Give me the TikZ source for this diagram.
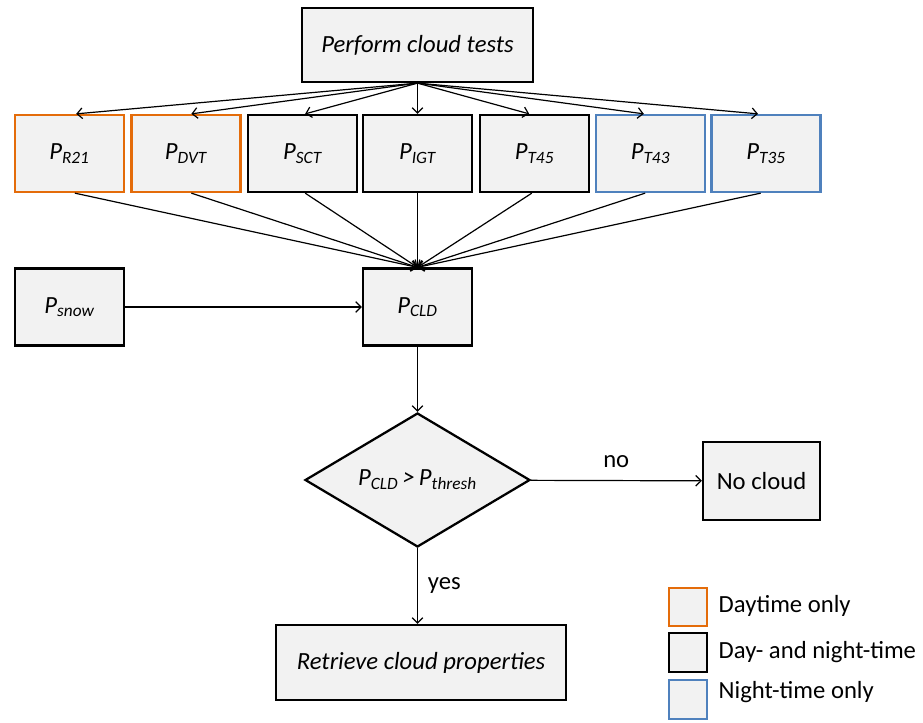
\documentclass[tikz,border=0pt]{standalone}
\usepackage{fontspec}
\setmainfont{Carlito}
\usepackage{tikz}
\usetikzlibrary{shapes.geometric,arrows.meta}
\definecolor{dayorange}{HTML}{E46C0A}
\definecolor{nightblue}{HTML}{4F81BD}
\definecolor{boxgrey}{HTML}{F2F2F2}
\tikzset{
    b/.style={
        draw=#1, fill=boxgrey, line width=1.7pt,
        minimum width=81.75pt, minimum height=57.75pt,
        inner sep=0pt, font=\fontsize{18.5}{22}\selectfont\itshape
    },
    b/.default=black,
    l/.style={draw, fill=boxgrey, line width=1.7pt, minimum size=29pt, inner sep=0pt},
    t/.style={font=\fontsize{18.5}{22}\selectfont},
    a/.style={-{Straight Barb[length=4pt,width=8pt]}, line width=0.9pt}
}
\newcommand{\prob}[1]{P\textsubscript{#1}}

\begin{document}
\begin{tikzpicture}[x=0.75pt, y=-0.75pt]
		\useasboundingbox (0,0) rectangle (923,723);

		% Cloud tests
		\node[b, minimum width=173pt, minimum height=55.5pt] (top) at (417.5,45) {Perform cloud tests};

		\node[b=dayorange] (r21) at (69.5,153.5) {\prob{R21}};
		\node[b=dayorange] (dvt) at (186,153.5) {\prob{DVT}};
		\node[b] (sct) at (302.5,153.5) {\prob{SCT}};
		\node[b] (igt) at (417.5,153.5) {\prob{IGT}};
		\node[b] (t45) at (534.5,153.5) {\prob{T45}};
		\node[b=nightblue] (t43) at (650.5,153.5) {\prob{T43}};
		\node[b=nightblue] (t35) at (766,153.5) {\prob{T35}};

		\draw[a] (top.south) -- ([xshift=5pt]r21.north);
		\draw[a] (top.south) -- ([xshift=4pt]dvt.north);
		\draw[a] (top.south) -- ([xshift=2pt]sct.north);
		\draw[a] (top.south) -- (igt.north);
		\draw[a] (top.south) -- ([xshift=-4pt]t45.north);
		\draw[a] (top.south) -- ([xshift=-5pt]t43.north);
		\draw[a] (top.south) -- ([xshift=-6pt]t35.north);

		% Combined probability
		\node[b] (snow) at (69.5,307) {\prob{snow}};
		\node[b] (cld) at (417.5,307) {\prob{CLD}};

		\draw[a] ([xshift=4pt]r21.south) -- (cld.north);
		\draw[a] ([xshift=4pt]dvt.south) -- (cld.north);
		\draw[a] ([xshift=2pt]sct.south) -- (cld.north);
		\draw[a] (igt.south) -- (cld.north);
		\draw[a] ([xshift=-2pt]t45.south) -- (cld.north);
		\draw[a] ([xshift=-4pt]t43.south) -- (cld.north);
		\draw[a] ([xshift=-4pt]t35.south) -- (cld.north);
		\draw[a] (snow) -- (cld);

		% Threshold test
		\node[b, diamond, aspect=1.68, minimum width=168.75pt, minimum height=100.5pt] (thresh) at (417.5,480) {\prob{CLD}\,>\,\prob{thresh}};
		\node[b, t, minimum width=87.75pt, minimum height=58.5pt] (nocloud) at (761.5,481) {No cloud};
		\node[b, minimum width=217.5pt, minimum height=56.25pt] (retrieve) at (421,662.5) {Retrieve cloud properties};

		\draw[a] (cld) -- (thresh);
		\draw[a] (thresh) -- node[t, above=6pt] {no} (nocloud);
		\draw[a] (thresh.south) -- node[t, right=4pt] {yes} (thresh.south |- retrieve.north);

		% Legend
		\node[l, draw=dayorange] (lday) at (688,607) {};
		\node[l, draw=black] (lboth) at (688,652.5) {};
		\node[l, draw=nightblue] (lnight) at (688,699.5) {};
		\node[t, anchor=west] (tday) at (714,606) {Daytime only};
		\node[t, anchor=west] (tboth) at (714,652) {Day- and night-time};
		\node[t, anchor=west] (tnight) at (714,692) {Night-time only};

	\end{tikzpicture}
\end{document}
